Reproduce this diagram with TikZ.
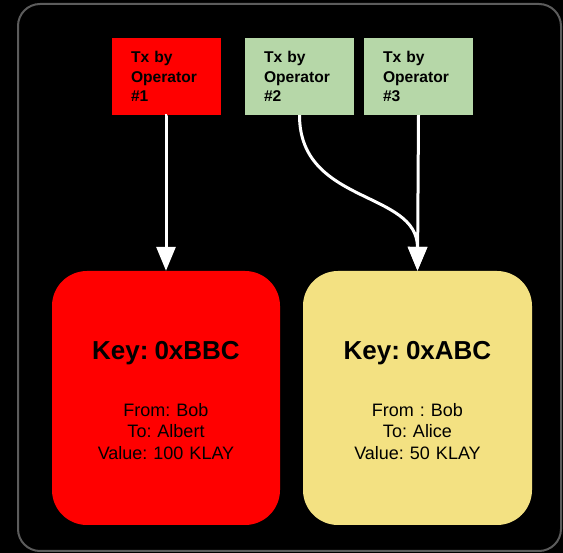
\documentclass[tikz,border=0pt]{standalone}
\usepackage{fontspec}
\setmainfont{Liberation Sans}
\frenchspacing
\usetikzlibrary{arrows.meta}
\definecolor{txgreen}{HTML}{B6D7A8}
\definecolor{keyyellow}{HTML}{F3E182}
\definecolor{framegray}{HTML}{5C5C5C}
\begin{document}
\begin{tikzpicture}[x=1pt, y=-1pt]

\tikzstyle{txbox}=[rectangle, minimum width=109pt, minimum height=77pt, inner sep=0pt, text width=71pt, align=left, font=\fontsize{15.6}{19.5}\selectfont\bfseries]
\tikzstyle{keybox}=[rectangle, rounded corners=35pt, minimum height=254pt, inner sep=0pt]
\tikzstyle{keytext}=[inner sep=0pt, text width=200pt, align=center, font=\fontsize{18}{21.5}\selectfont]
\tikzstyle{arrow}=[-{Triangle[width=19pt,length=24pt]}, white, line width=3pt]

\useasboundingbox (0,0) rectangle (563,553);
\fill [black] (0,0) rectangle (563,553);
\draw [framegray, line width=2pt, rounded corners=22pt] (18,4) rectangle (561,551);

\node (op1) [txbox, fill=red]       at (166.5,76.5) {Tx by\\Operator\\\#1};
\node (op2) [txbox, fill=txgreen]   at (299.5,76.5) {Tx by\\Operator\\\#2};
\node (op3) [txbox, fill=txgreen]   at (418.5,76.5) {Tx by\\Operator\\\#3};

\node (keyBBC) [keybox, fill=red, minimum width=228pt] at (166,398) {};
\node (keyABC) [keybox, fill=keyyellow, minimum width=229pt] at (417.5,398) {};

\node (textBBC) [keytext] at (166,400.5)
  {{\fontsize{26}{31}\selectfont\bfseries Key: 0xBBC}\\[35.5pt]
   From: Bob\\To: Albert\\Value: 100 KLAY};
\node (textABC) [keytext] at (417.5,400.5)
  {{\fontsize{26}{31}\selectfont\bfseries Key: 0xABC}\\[35.5pt]
   From : Bob\\To: Alice\\Value: 50 KLAY};

\draw [arrow] (op1.south) -- (op1.south -| keyBBC.north) -- (keyBBC.north);
\draw [arrow] (op2.south) .. controls (299.5,205) and (417.5,190) .. (keyABC.north);
\draw [arrow] (op3.south) -- (keyABC.north);

\end{tikzpicture}
\end{document}
